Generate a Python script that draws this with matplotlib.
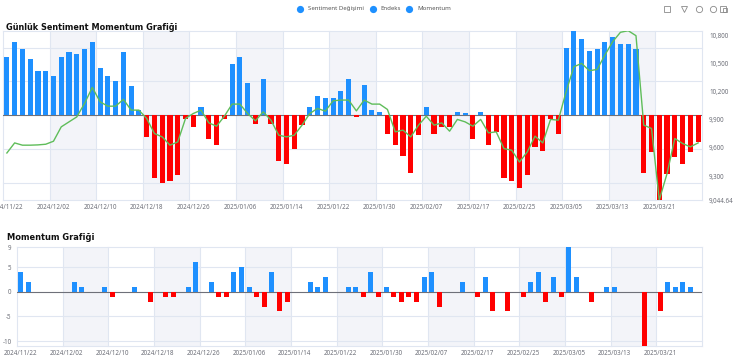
import numpy as np
import pandas as pd
import matplotlib
matplotlib.use("Agg")
import matplotlib.pyplot as plt

plt.rcParams['font.family'] = ['Noto Sans', 'DejaVu Sans']

# ---------------- data ----------------
dates = [d.strftime('%Y/%m/%d') for d in pd.bdate_range('2024-11-22', '2025-03-28')
         if d.strftime('%Y-%m-%d') != '2025-01-01']

sentiment = [17.2, 21.6, 19.6, 16.6, 13.1, 13.1, 11.6, 17.2, 18.6, 18.1,
             19.6, 21.6, 14.1, 11.6, 10.1, 18.6, 8.6, 1.6, -6.4, -18.4,
             -19.9, -19.4, -17.5, -1.0, -3.4, 2.5, -6.9, -8.9, -1.0, 15.1,
             17.2, 9.6, -2.5, 10.6, -2.5, -13.4, -14.4, -9.9, -2.9, 2.5,
             5.6, 5.1, 5.1, 7.1, 10.6, -0.4, 9.1, 1.6, 1.0, -5.4,
             -8.9, -11.9, -16.9, -5.9, 2.5, -5.4, -3.4, -3.4, 1.0, 0.6,
             -6.9, 1.0, -8.9, -4.9, -18.4, -19.4, -21.4, -17.5, -9.4, -10.4,
             -1.0, -5.4, 20.0, 25.0, 22.5, 19.1, 19.5, 21.6, 23.0, 21.1,
             21.1, 19.5, -16.9, -10.9, -25.0, -17.4, -12.4, -14.4, -10.9, -7.9]

endeks = [9545, 9652, 9628, 9628, 9631, 9638, 9670, 9823, 9876, 9929,
          10072, 10243, 10089, 10043, 10043, 10115, 10001, 10001, 9912, 9752,
          9716, 9628, 9663, 9912, 9965, 10001, 9865, 9830, 9936, 10065,
          10065, 9965, 9887, 9983, 9894, 9734, 9716, 9734, 9841, 9965,
          10019, 9990, 10100, 10108, 10108, 9993, 10108, 10065, 10065, 10008,
          9770, 9788, 9716, 9841, 9936, 9841, 9865, 9777, 9902, 9876,
          9830, 9902, 9759, 9770, 9592, 9574, 9449, 9556, 9724, 9652,
          9902, 9894, 10196, 10462, 10498, 10420, 10434, 10587, 10729, 10829,
          10846, 10793, 9841, 9806, 9044.64, 9326, 9699, 9646, 9610, 9652]

momentum = [4, 2, 0, 0, 0, 0, 0, 2, 1, 0,
            0, 1, -1, 0, 0, 1, 0, -2, 0, -1,
            -1, 0, 1, 6, 0, 2, -1, -1, 4, 5,
            1, -1, -3, 4, -4, -2, 0, 0, 2, 1,
            3, 0, 0, 1, 1, -1, 4, -1, 1, -1,
            -2, -1, -2, 3, 4, -3, 0, 0, 2, 0,
            -1, 3, -4, 0, -4, 0, -1, 2, 4, -2,
            3, -1, 9, 3, 0, -2, 0, 1, 1, 0,
            0, 0, -11, 0, -4, 2, 1, 2, 1, 0]

right_ticks = [9044.64, 9300, 9600, 9900, 10200, 10500, 10800]
mom_ticks = [-10, -5, 0, 5, 9]

# ---------------- style ----------------
BLUE = '#1e90ff'
RED = '#ff0000'
GREEN = '#5fbd5a'
GRID = '#e0e6f1'
AXIS = '#6e7079'
SHADE = '#f3f4f9'
TITLE_FAMILY = ['DejaVu Sans']

W, H = 735, 359
fig = plt.figure(figsize=(W / 100, H / 100), dpi=100)
renderer = fig.canvas.get_renderer()


def fit_size(s, target_w, weight='normal', family=None):
    kw = {'fontfamily': family} if family else {}
    t = fig.text(0, 0, s, fontsize=10, fontweight=weight, **kw)
    w = t.get_window_extent(renderer).width
    t.remove()
    return 10 * target_w / w


tick_fs = fit_size('2024/12/02', 33)
title_fs = fit_size('Günlük Sentiment Momentum Grafiği', 170, 'bold', TITLE_FAMILY)
title2_fs = fit_size('Momentum Grafiği', 87, 'bold', TITLE_FAMILY)
legend_fs = fit_size('Sentiment Değişimi', 56)

n = len(dates)
x = np.arange(n)


def base_axes(ax, ylo, yhi, hlines):
    ax.set_xlim(-0.5, n - 0.5)
    ax.set_ylim(ylo, yhi)
    for s in ax.spines.values():
        s.set_visible(False)
    for k in range(0, n // 6 + 1):
        if k % 2 == 1 and 6 * k < n:
            ax.axvspan(-0.5 + 6 * k, -0.5 + 6 * k + 6, color=SHADE, lw=0, zorder=0)
        ax.axvline(-0.5 + 6 * k, color=GRID, lw=0.8, zorder=1, clip_on=False)
    for h in hlines:
        ax.axhline(h, color=GRID, lw=0.8, zorder=1, clip_on=False)
    ax.axhline(0, color=AXIS, lw=0.8, zorder=2)
    ax.set_xticks(x[::6])
    ax.set_xticklabels(dates[::6])
    ax.tick_params(axis='x', length=0, pad=3.2, labelsize=tick_fs, labelcolor=AXIS)


# ---------------- top chart ----------------
ax1 = fig.add_axes([3 / W, 1 - 200 / H, 699 / W, 169.3 / H])
base_axes(ax1, -25, 25, [-25, -20, -10, 10, 20, 25])
ax1.bar(x, sentiment, width=0.66,
        color=[BLUE if v >= 0 else RED for v in sentiment], zorder=3)
ax1.set_yticks([])

ax2 = ax1.twinx()
ax2.plot(x, endeks, color=GREEN, lw=1.0, zorder=4)
ax2.set_ylim(min(endeks), max(endeks))
ax2.set_yticks(right_ticks)
ax2.set_yticklabels([f'{v:,.2f}' if v != round(v) else f'{int(v):,}' for v in right_ticks])
ax2.tick_params(axis='y', length=0, pad=5, labelsize=tick_fs, labelcolor=AXIS)
for s in ax2.spines.values():
    s.set_visible(False)

# ---------------- bottom chart ----------------
ax3 = fig.add_axes([17 / W, 1 - 346 / H, 685 / W, 98.7 / H])
base_axes(ax3, -11, 9, [-11, -10, -5, 5, 9])
ax3.bar(x, momentum, width=0.66,
        color=[BLUE if v >= 0 else RED for v in momentum], zorder=3)
ax3.set_yticks(mom_ticks)
ax3.set_yticklabels([str(v) for v in mom_ticks])
ax3.tick_params(axis='y', length=0, pad=4, labelsize=tick_fs, labelcolor=AXIS)

# ---------------- overlay: titles, legend, toolbox ----------------
ov = fig.add_axes([0, 0, 1, 1], zorder=10)
ov.set_xlim(0, W)
ov.set_ylim(H, 0)
ov.axis('off')

ov.text(6, 27.5, 'Günlük Sentiment Momentum Grafiği', fontsize=title_fs,
        fontweight='bold', fontfamily=TITLE_FAMILY, color='#111111',
        va='center', ha='left')
ov.text(7, 237.5, 'Momentum Grafiği', fontsize=title2_fs,
        fontweight='bold', fontfamily=TITLE_FAMILY, color='#111111',
        va='center', ha='left')

legend_items = [('Sentiment Değişimi', 300, 308), ('Endeks', 372.7, 380),
                ('Momentum', 409.3, 417.7)]
for label, cx, tx in legend_items:
    ov.plot(cx, 8.5, 'o', ms=5.2, color=BLUE, mec='none')
    ov.text(tx, 8.5, label, fontsize=legend_fs, color='#555555', va='center', ha='left')

icon_kw = dict(color='none', mec='#8a8a8a', mew=0.6, ms=4.5)
ov.plot(667, 9, 's', **icon_kw)
ov.plot(684, 9, 'v', **icon_kw)
ov.plot(699, 9, 'o', **icon_kw)
ov.plot(713, 9, 'o', **icon_kw)
ov.plot(723, 8.5, 's', **icon_kw)
ov.plot(725, 10, 's', color='none', mec='#8a8a8a', mew=0.6, ms=3.5)

fig.savefig('out.png', dpi=100)
